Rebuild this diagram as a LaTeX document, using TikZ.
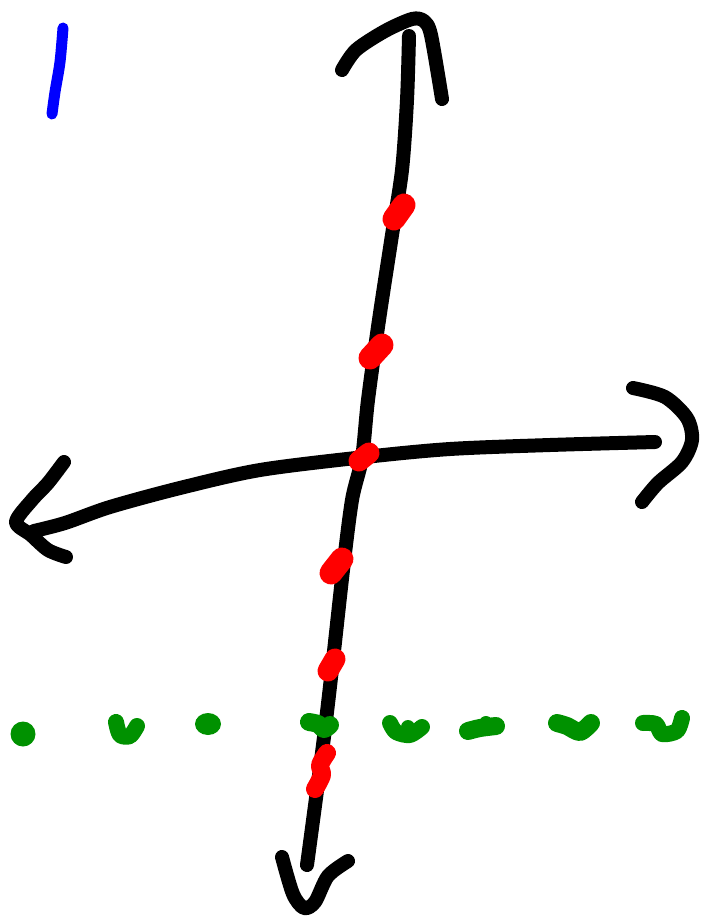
\documentclass[tikz,border=0pt]{standalone}
\begin{document}
\begin{tikzpicture}[x=1pt,y=-1pt,line cap=round,line join=round,
  ink/.style={draw=black,line width=14pt},
  bluepen/.style={draw={rgb,255:red,0;green,0;blue,255},line width=11pt},
  redpen/.style={draw={rgb,255:red,255;green,0;blue,0},line width=23pt},
  greenpen/.style={draw={rgb,255:red,0;green,145;blue,0},line width=18pt}]
\useasboundingbox (0,0) rectangle (710,922);
% blue mark
\draw[bluepen] plot[smooth] coordinates {(63,28) (60,62) (55,92) (52,114)};
% vertical axis
\draw[ink] plot[smooth] coordinates {(409,36) (407,100) (402,170) (392,235) (379,320) (368,400) (362,458) (352,500) (343,570) (333,660) (323,745) (307,865)};
% top arrowhead
\draw[ink] plot[smooth] coordinates {(342,70) (356,50) (385,31) (412,19) (424,21) (431,35) (442,99)};
% bottom arrowhead
\draw[ink] plot[smooth] coordinates {(282,857) (293,894) (304,908) (315,902) (328,876) (348,861)};
% horizontal axis
\draw[ink] plot[smooth] coordinates {(655,442) (550,445) (450,449) (365,457) (260,470) (180,488) (110,507) (65,523) (34,531)};
% left arrowhead
\draw[ink] plot[smooth] coordinates {(64,462) (48,483) (32,500) (16,522) (31,535) (48,550) (66,557)};
% right arrowhead
\draw[ink] plot[smooth] coordinates {(633,388) (665,397) (687,418) (692,440) (682,462) (658,483) (642,502)};
% red dots
\draw[redpen] (404,205) -- (394,219);
\draw[redpen] (382,345) -- (370,358);
\draw[redpen,line width=21pt] (369,453) -- (359,461);
\draw[redpen] (342,559) -- (331,573);
\draw[redpen,line width=21pt] (335,659) -- (328,671);
\draw[redpen,line width=18pt] plot[smooth] coordinates {(327,753) (320,765) (322,775) (315,789)};
% green dots
\fill[green!57!black] (23,734) circle[radius=12.5pt];
\fill[green!57!black] (208,724) ellipse[x radius=13pt,y radius=11pt];
\draw[greenpen,line width=16pt] plot[smooth] coordinates {(116,722) (120,735) (130,736) (137,726)};
\draw[greenpen] plot[smooth] coordinates {(309,722) (318,724) (324,729) (330,725)};
\draw[greenpen,line width=16pt] plot[smooth] coordinates {(390,723) (396,732) (410,735) (422,727)};
\draw[greenpen,line width=14pt] (408,731) -- (408,727);
\draw[greenpen] plot[smooth] coordinates {(468,731) (480,728) (496,726)};
\draw[greenpen,line width=14pt] (484,727) -- (486,723);
\draw[greenpen] plot[smooth] coordinates {(557,723) (567,726) (580,732) (591,723)};
\draw[greenpen,line width=16pt] plot[smooth] coordinates {(643,723) (656,724) (662,734) (677,731) (682,718)};
\end{tikzpicture}
\end{document}
